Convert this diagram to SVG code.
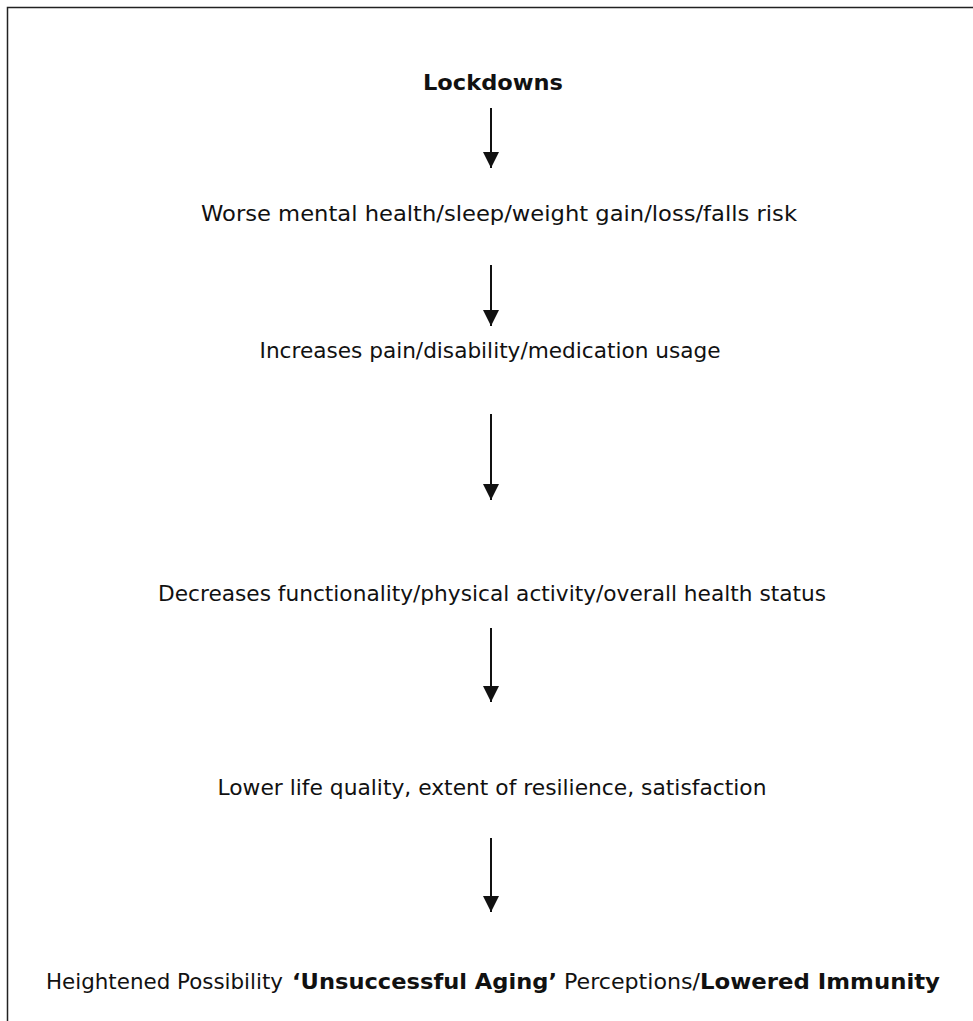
<svg xmlns="http://www.w3.org/2000/svg" width="973" height="1021" viewBox="0 0 973 1021">
<style>
text{font-family:"DejaVu Sans","Liberation Sans",sans-serif;font-size:22px;fill:#111;text-anchor:middle}
.b{font-weight:bold}
.s{text-anchor:start}
.c{stroke:#111;stroke-width:2;fill:none}
.frame{stroke:#222;stroke-width:1.5;fill:none}
</style>
<defs>
<marker id="ah" markerUnits="userSpaceOnUse" markerWidth="18" markerHeight="16" refX="16" refY="8" orient="auto">
<path d="M0,0 L16,8 L0,16 Z" fill="#111"/>
</marker>
</defs>
<rect width="973" height="1021" fill="#fff"/>
<path class="frame" d="M7.5,1021 V7.5 H973"/>
<g id="connectors">
<line class="c" x1="491" y1="108" x2="491" y2="168" marker-end="url(#ah)"/>
<line class="c" x1="491" y1="265" x2="491" y2="326" marker-end="url(#ah)"/>
<line class="c" x1="491" y1="414" x2="491" y2="500" marker-end="url(#ah)"/>
<line class="c" x1="491" y1="628" x2="491" y2="702" marker-end="url(#ah)"/>
<line class="c" x1="491" y1="838" x2="491" y2="912" marker-end="url(#ah)"/>
</g>
<g id="n1"><text class="b" x="493" y="90" textLength="140" lengthAdjust="spacingAndGlyphs">Lockdowns</text></g>
<g id="n2"><text x="499" y="221" textLength="596" lengthAdjust="spacingAndGlyphs">Worse mental health/sleep/weight gain/loss/falls risk</text></g>
<g id="n3"><text x="490" y="358" textLength="461" lengthAdjust="spacingAndGlyphs">Increases pain/disability/medication usage</text></g>
<g id="n4"><text x="492" y="601" textLength="668" lengthAdjust="spacingAndGlyphs">Decreases functionality/physical activity/overall health status</text></g>
<g id="n5"><text x="492" y="795" textLength="549" lengthAdjust="spacingAndGlyphs">Lower life quality, extent of resilience, satisfaction</text></g>
<g id="n6">
<text class="s" x="46" y="989" textLength="237" lengthAdjust="spacingAndGlyphs">Heightened Possibility</text>
<text class="b s" x="292" y="989" textLength="265" lengthAdjust="spacingAndGlyphs">‘Unsuccessful Aging’</text>
<text class="s" x="564" y="989" textLength="136" lengthAdjust="spacingAndGlyphs">Perceptions/</text>
<text class="b s" x="700" y="989" textLength="240" lengthAdjust="spacingAndGlyphs">Lowered Immunity</text>
</g>
</svg>
